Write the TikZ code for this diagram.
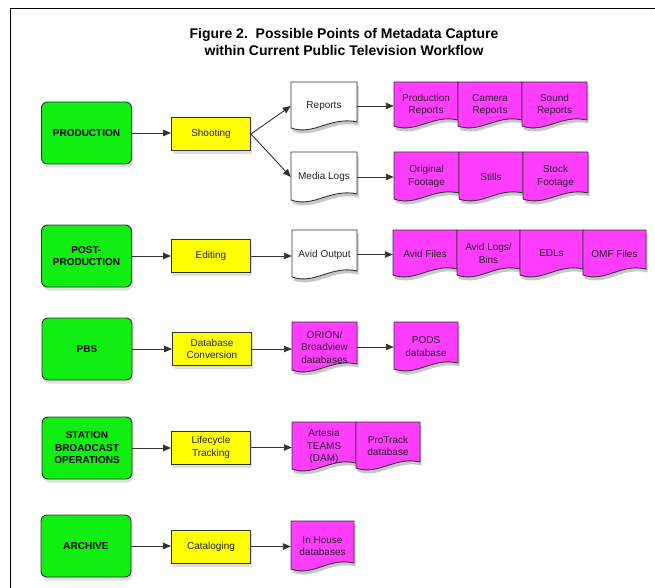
\documentclass[tikz,border=0pt]{standalone}
\usepackage{fontspec}
\setmainfont{Liberation Sans}
\usetikzlibrary{arrows.meta,shadows}
\definecolor{grn}{HTML}{11EE11}
\definecolor{ylw}{HTML}{FFFF00}
\definecolor{mgt}{HTML}{FF3DFF}
\definecolor{edgec}{HTML}{333333}
\definecolor{txt}{HTML}{222222}
\newcommand\docbox[7]{%
  \fill[black,opacity=.22,shift={(1.5pt,-3.5pt)}] (#2,#3) -- (#4,#3) -- (#4,{#5-6}) .. controls ({#2+0.6*(#4-#2)},{#5-12}) and ({#2+0.35*(#4-#2)},{#5+8}) .. (#2,#5) -- cycle;
  \filldraw[fill=#6,draw=edgec,line width=0.9pt] (#2,#3) -- (#4,#3) -- (#4,{#5-6}) .. controls ({#2+0.6*(#4-#2)},{#5-12}) and ({#2+0.35*(#4-#2)},{#5+8}) .. (#2,#5) -- cycle;
  \node[doctext,minimum width={#4-#2}] (#1) at ({(#2+#4)/2},{(#3+#5)/2+1}) {#7};
}
\begin{document}
\begin{tikzpicture}[x=1pt,y=-1pt,
  greenbox/.style={rectangle,rounded corners=6pt,draw=edgec,line width=0.9pt,fill=grn,
    minimum width=90,minimum height=62,inner sep=0,align=center,
    font=\fontsize{10}{12.5}\bfseries\selectfont,
    drop shadow={opacity=.25,shadow xshift=1.5pt,shadow yshift=-3.5pt}},
  yellowbox/.style={rectangle,draw=edgec,line width=0.9pt,fill=ylw,
    minimum width=79,minimum height=33,inner sep=0,align=center,text=txt,
    font=\fontsize{10}{12.5}\selectfont,
    drop shadow={opacity=.25,shadow xshift=1.5pt,shadow yshift=-3.5pt}},
  doctext/.style={inner sep=0,minimum height=10,align=center,text=txt,
    font=\fontsize{10}{12.5}\selectfont},
  conn/.style={draw=edgec,line width=0.9pt,-{Triangle[length=8pt,width=6.5pt]}}]
\useasboundingbox (0,0) rectangle (655,588);
\fill[white] (0,0) rectangle (655,588);
\draw[line width=1.3pt,black] (10.5,588) -- (10.5,8.5) -- (655,8.5);

\node[font=\fontsize{14}{17}\bfseries\selectfont,align=center,inner sep=0] (title) at (344,42)
  {Figure 2.\ \ Possible Points of Metadata Capture\\within Current Public Television Workflow};

% row 1
\node[greenbox] (prod) at (86.5,133) {PRODUCTION};
\node[yellowbox] (shoot) at (211,134) {Shooting};
\docbox{reports}{291}{82}{357}{128}{white}{Reports}
\docbox{medialogs}{291}{152}{357}{200}{white}{Media Logs}
\docbox{prodrep}{394}{82}{458}{126}{mgt}{Production\\Reports}
\docbox{camrep}{458}{82}{522}{126}{mgt}{Camera\\Reports}
\docbox{soundrep}{522}{82}{587}{126}{mgt}{Sound\\Reports}
\docbox{origfoot}{394}{152}{459}{199}{mgt}{Original\\Footage}
\docbox{stills}{459}{152}{523}{199}{mgt}{Stills}
\docbox{stockfoot}{523}{152}{588}{199}{mgt}{Stock\\Footage}

% row 2
\node[greenbox] (post) at (86.5,256) {POST-\\PRODUCTION};
\node[yellowbox] (editing) at (211,256) {Editing};
\docbox{avidout}{292}{230}{357}{277}{white}{Avid Output}
\docbox{avidfiles}{393}{230}{457}{275}{mgt}{Avid Files}
\docbox{avidlogs}{457}{230}{520}{275}{mgt}{Avid Logs/\\Bins}
\docbox{edls}{520}{230}{583}{275}{mgt}{EDLs}
\docbox{omf}{583}{230}{646}{275}{mgt}{OMF Files}

% row 3
\node[greenbox] (pbs) at (87,349) {PBS};
\node[yellowbox] (dbconv) at (212,349) {Database\\Conversion};
\docbox{orion}{292}{322}{357}{370}{mgt}{ORION/\\Broadview\\databases}
\docbox{pods}{394}{322}{458}{369}{mgt}{PODS\\database}

% row 4
\node[greenbox] (station) at (87,448) {STATION\\BROADCAST\\OPERATIONS};
\node[yellowbox] (lifecycle) at (211,447.5) {Lifecycle\\Tracking};
\docbox{artesia}{292}{422}{356}{469}{mgt}{Artesia\\TEAMS\\(DAM)}
\docbox{protrack}{356}{422}{420}{468}{mgt}{ProTrack\\database}

% row 5
\node[greenbox] (archive) at (86,546) {ARCHIVE};
\node[yellowbox] (catalog) at (211,546.5) {Cataloging};
\docbox{inhouse}{291}{521}{354}{569}{mgt}{In House\\databases}

% connectors
\draw[conn] (prod.east) -- (shoot.west |- prod.east);
\draw[conn] (shoot.east) -- (reports.west);
\draw[conn] (shoot.east) -- (medialogs.west);
\draw[conn] (reports.east) -- (prodrep.west |- reports.east);
\draw[conn] (medialogs.east) -- (origfoot.west |- medialogs.east);
\draw[conn] (post.east) -- (editing.west |- post.east);
\draw[conn] (editing.east) -- (avidout.west |- editing.east);
\draw[conn] (avidout.east) -- (avidfiles.west |- avidout.east);
\draw[conn] (pbs.east) -- (dbconv.west |- pbs.east);
\draw[conn] (dbconv.east) -- (orion.west |- dbconv.east);
\draw[conn] (orion.east) -- (pods.west |- orion.east);
\draw[conn] (station.east) -- (lifecycle.west |- station.east);
\draw[conn] (lifecycle.east) -- (artesia.west |- lifecycle.east);
\draw[conn] (archive.east) -- (catalog.west |- archive.east);
\draw[conn] (catalog.east) -- (inhouse.west |- catalog.east);
\end{tikzpicture}
\end{document}
